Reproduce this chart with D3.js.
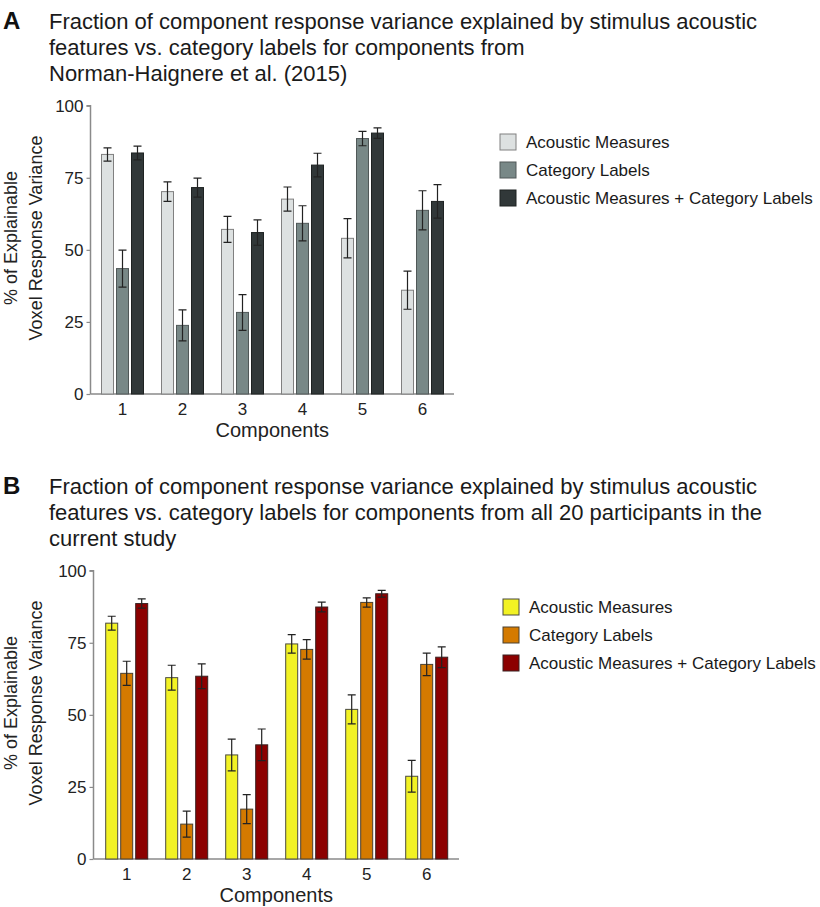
<!DOCTYPE html>
<html>
<head>
<meta charset="utf-8">
<script src="https://cdn.jsdelivr.net/npm/d3@7/dist/d3.min.js"></script>
<style>
  html, body { margin: 0; padding: 0; background: #fff; }
  svg { display: block; font-family: "Liberation Sans", Arial, Helvetica, sans-serif; }
</style>
</head>
<body>
<svg id="chart" width="820" height="907"></svg>
<script>
// ---------- data ----------
const components = ["1", "2", "3", "4", "5", "6"];
const seriesNames = ["Acoustic Measures", "Category Labels", "Acoustic Measures + Category Labels"];
const yTicks = [0, 25, 50, 75, 100];

const titleA = ["Fraction of component response variance explained by stimulus acoustic",
                "features vs. category labels for components from",
                "Norman-Haignere et al. (2015)"];
const titleB = ["Fraction of component response variance explained by stimulus acoustic",
                "features vs. category labels for components from all 20 participants in the",
                "current study"];

const aAcoustic    = [83.1, 70.2, 57.1, 67.6, 54.0, 36.0];
const aAcousticErr = [2.3, 3.4, 4.5, 4.2, 6.8, 6.6];
const aCategory    = [43.5, 23.8, 28.3, 59.2, 88.6, 63.7];
const aCategoryErr = [6.4, 5.4, 6.2, 6.1, 2.5, 6.8];
const aCombined    = [83.6, 71.6, 56.0, 79.4, 90.5, 66.8];
const aCombinedErr = [2.4, 3.3, 4.4, 4.1, 1.8, 5.8];

const bAcoustic    = [81.8, 62.9, 36.1, 74.6, 51.9, 28.7];
const bAcousticErr = [2.4, 4.3, 5.5, 3.2, 5.0, 5.5];
const bCategory    = [64.4, 12.1, 17.3, 72.7, 89.0, 67.5];
const bCategoryErr = [4.2, 4.5, 5.0, 3.4, 1.6, 3.9];
const bCombined    = [88.6, 63.4, 39.6, 87.4, 92.0, 70.0];
const bCombinedErr = [1.6, 4.3, 5.5, 1.7, 1.2, 3.6];

const colorsA = ["#dde1e1", "#788887", "#313839"];
const strokesA = ["#808080", "#505858", "#1e2222"];
const colorsB = ["#f2f224", "#d47a00", "#8c0000"];
const strokesB = ["#4a4a40", "#4a4030", "#3a2020"];

// ---------- drawing ----------
const svg = d3.select("#chart");

function panel(opt) {
  const g = svg.append("g");
  // letter + title
  g.append("text").attr("x", opt.letterX).attr("y", opt.titleY)
    .attr("font-size", 24).attr("font-weight", "bold").attr("fill", "#111").text(opt.letter);
  g.append("g").selectAll("text").data(opt.title).join("text")
    .attr("x", 49).attr("y", (d, i) => opt.titleY + i * 26)
    .attr("font-size", 22).attr("fill", "#1a1a1a").text(d => d);

  const y = d3.scaleLinear().domain([0, 100]).range([opt.y0, opt.y1]);
  const x0 = d3.scaleBand().domain(components).range([opt.xStart, opt.xStart + 360]);
  const x1 = d3.scaleBand().domain(seriesNames).range([-22.5, 22.5]).paddingInner(0.2).paddingOuter(0.1);

  // y axis
  const yAxis = g.append("g").attr("transform", `translate(${opt.axisX},0)`)
    .call(d3.axisLeft(y).tickValues(yTicks).tickSize(4).tickPadding(3));
  yAxis.select(".domain").attr("stroke", "#8a8a8a").attr("stroke-width", 1.5).attr("d", `M-4,${opt.y1}H0V${opt.y0}`);
  yAxis.selectAll(".tick line").attr("stroke", "#8a8a8a").attr("stroke-width", 1.2);
  yAxis.selectAll(".tick text").attr("font-size", 17).attr("fill", "#222")
    .attr("font-family", "'Liberation Sans', Arial, sans-serif");

  // x axis
  const xAxis = g.append("g").attr("transform", `translate(0,${opt.y0})`)
    .call(d3.axisBottom(x0).tickSize(0).tickPadding(9));
  xAxis.select(".domain").attr("stroke", "#8a8a8a").attr("stroke-width", 1.5)
    .attr("d", `M${opt.axisX},0H${opt.axisEnd}`);
  xAxis.selectAll(".tick text").attr("font-size", 17).attr("fill", "#222")
    .attr("font-family", "'Liberation Sans', Arial, sans-serif");

  // bars
  const rows = [];
  opt.series.forEach((s, si) => {
    components.forEach((c, ci) => {
      rows.push({ comp: c, name: seriesNames[si], si, v: s.v[ci], e: s.e[ci] });
    });
  });
  const groups = g.append("g");
  groups.selectAll("rect").data(rows).join("rect")
    .attr("x", d => x0(d.comp) + x0.bandwidth() / 2 + x1(d.name))
    .attr("y", d => y(d.v))
    .attr("width", x1.bandwidth())
    .attr("height", d => y(0) - y(d.v))
    .attr("fill", d => opt.colors[d.si])
    .attr("stroke", d => opt.strokes[d.si])
    .attr("stroke-width", 1);

  // error bars
  const eb = g.append("g").attr("stroke", "#222").attr("stroke-width", 1.2).attr("fill", "none");
  eb.selectAll("path").data(rows).join("path")
    .attr("d", d => {
      const cx = x0(d.comp) + x0.bandwidth() / 2 + x1(d.name) + x1.bandwidth() / 2;
      const t = y(d.v + d.e), b = y(d.v - d.e);
      return `M${cx - 4},${t}H${cx + 4}M${cx},${t}V${b}M${cx - 4},${b}H${cx + 4}`;
    });

  // axis titles
  g.append("text").attr("x", (opt.axisX + opt.axisEnd) / 2).attr("y", opt.y0 + 43)
    .attr("text-anchor", "middle").attr("font-size", 20).attr("fill", "#222").text("Components");
  const yt = g.append("text").attr("transform", `translate(0,${opt.yTitleCenter}) rotate(-90)`)
    .attr("text-anchor", "middle").attr("font-size", 18).attr("fill", "#222");
  yt.append("tspan").attr("x", 0).attr("y", 17).text("% of Explainable");
  yt.append("tspan").attr("x", 0).attr("y", 41.5).text("Voxel Response Variance");

  // legend
  const lg = g.append("g").selectAll("g").data(seriesNames).join("g")
    .attr("transform", (d, i) => `translate(${opt.legX},${opt.legY + i * 28})`);
  lg.append("rect").attr("x", 0).attr("y", 0).attr("width", 16).attr("height", 16)
    .attr("fill", (d, i) => opt.colors[i]).attr("stroke", (d, i) => opt.strokes[i]).attr("stroke-width", 1);
  lg.append("text").attr("x", 26).attr("y", 14).attr("font-size", 17).attr("fill", "#1a1a1a").text(d => d);
}

panel({
  letter: "A", letterX: 3, titleY: 29, title: titleA,
  y0: 394, y1: 105.7, axisX: 90.5, axisEnd: 454, xStart: 92.5,
  yTitleCenter: 238,
  series: [{ v: aAcoustic, e: aAcousticErr }, { v: aCategory, e: aCategoryErr }, { v: aCombined, e: aCombinedErr }],
  colors: colorsA, strokes: strokesA, legX: 500, legY: 134
});

panel({
  letter: "B", letterX: 3, titleY: 494, title: titleB,
  y0: 859, y1: 570.7, axisX: 93.5, axisEnd: 459, xStart: 96.7,
  yTitleCenter: 703,
  series: [{ v: bAcoustic, e: bAcousticErr }, { v: bCategory, e: bCategoryErr }, { v: bCombined, e: bCombinedErr }],
  colors: colorsB, strokes: strokesB, legX: 503, legY: 599
});
</script>
</body>
</html>
